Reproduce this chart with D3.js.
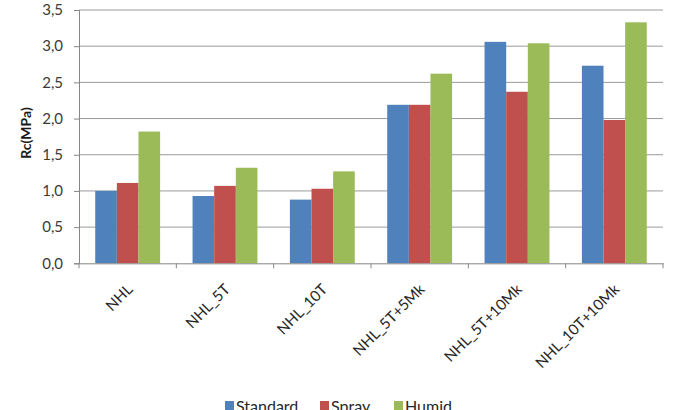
<!DOCTYPE html>
<html><head><meta charset="utf-8">
<script src="https://cdn.jsdelivr.net/npm/d3@7"></script>
<style>body{margin:0;background:#fff}svg{display:block}</style>
</head><body>
<script>
const categories = ["NHL","NHL_5T","NHL_10T","NHL_5T+5Mk","NHL_5T+10Mk","NHL_10T+10Mk"];
const seriesNames = ["Standard","Spray","Humid"];
const standard = [1.00,0.93,0.88,2.19,3.06,2.73];
const spray = [1.11,1.07,1.03,2.19,2.37,1.98];
const humid = [1.82,1.32,1.27,2.62,3.04,3.33];
const yTicks = [0,0.5,1,1.5,2,2.5,3,3.5];
const colors = ["#4F81BD","#C0504D","#9BBB59"];
const values = [standard, spray, humid];

(function () {
const W = 673, H = 410;
const pl = 79, pr = 663, pt = 10, pb = 263.3;
const font = "Lato, 'Open Sans', sans-serif";

const svg = d3.select("body").append("svg").attr("width", W).attr("height", H);

const x = d3.scaleBand().domain(categories).range([pl, pr]).paddingInner(0).paddingOuter(0);
const bw = x.bandwidth() / 4.5;
const xs = d3.scaleBand().domain(seriesNames).range([0.75*bw, 3.75*bw]);
const y = d3.scaleLinear().domain([0, 3.5]).range([pb, pt]);

// gridlines
svg.append("g").selectAll("line").data(yTicks.filter(d => d > 0)).join("line")
  .attr("x1", pl).attr("x2", pr)
  .attr("y1", d => y(d)).attr("y2", d => y(d))
  .attr("stroke", "#9a9a9a").attr("stroke-width", 1);

// bars
const g = svg.append("g");
seriesNames.forEach((s, si) => {
  g.append("g").selectAll("rect").data(categories).join("rect")
    .attr("x", c => x(c) + xs(s))
    .attr("width", xs.bandwidth())
    .attr("y", (c, i) => y(values[si][i]))
    .attr("height", (c, i) => y(0) - y(values[si][i]))
    .attr("fill", colors[si]);
});

// y axis
const yAxis = d3.axisLeft(y).tickValues(yTicks).tickSize(5).tickPadding(11)
  .tickFormat(d => d3.format(".1f")(d).replace(".", ","));
const ya = svg.append("g").attr("transform", `translate(${pl},0)`).call(yAxis);
ya.select(".domain").attr("stroke", "#868686");
ya.selectAll(".tick line").attr("stroke", "#868686");
ya.selectAll("text").attr("font-family", font).attr("font-size", 15).attr("fill", "#3a3a3a");

// x axis
const xa = svg.append("g").attr("transform", `translate(0,${pb})`)
  .call(d3.axisBottom(x).tickSize(0).tickFormat(""));
xa.select(".domain").attr("stroke", "#868686");
xa.selectAll(".tick").remove();
svg.append("g").selectAll("line").data(categories.concat(["__end"])).join("line")
  .attr("x1", (d, i) => pl + i * x.bandwidth())
  .attr("x2", (d, i) => pl + i * x.bandwidth())
  .attr("y1", pb).attr("y2", pb + 5)
  .attr("stroke", "#868686");

// category labels
svg.append("g").selectAll("text").data(categories).join("text")
  .attr("transform", c => `translate(${x(c) + x.bandwidth()/2 + 6},${pb + 27}) rotate(-45)`)
  .attr("text-anchor", "end")
  .attr("font-family", font).attr("font-size", 15).attr("fill", "#262626")
  .text(c => c);

// y title
svg.append("text")
  .attr("transform", `translate(31,133) rotate(-90)`)
  .attr("text-anchor", "middle")
  .attr("font-family", font).attr("font-size", 14).attr("font-weight", "bold").attr("fill", "#1a1a1a")
  .text("Rc(MPa)");

// legend
const legendX = [225, 320, 394];
const lg = svg.append("g");
seriesNames.forEach((s, i) => {
  lg.append("rect").attr("x", legendX[i]).attr("y", 401).attr("width", 9).attr("height", 9).attr("fill", colors[i]);
  lg.append("text").attr("x", legendX[i] + 11).attr("y", 412)
    .attr("font-family", font).attr("font-size", 16).attr("fill", "#262626").text(s);
});
})();
</script>
</body></html>
